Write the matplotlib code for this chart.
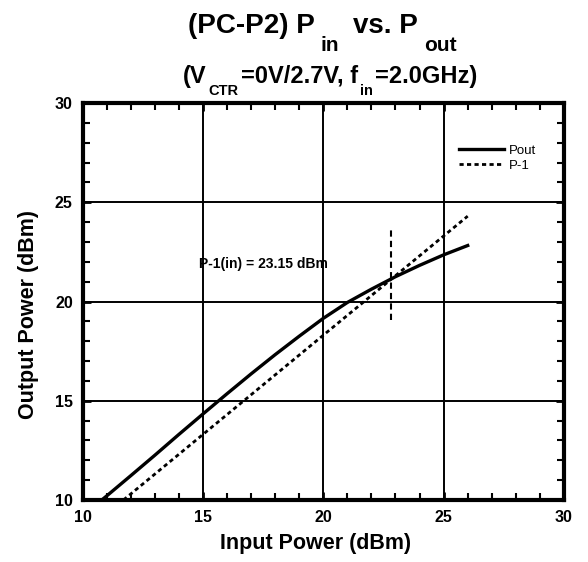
import numpy as np
import matplotlib
matplotlib.use("Agg")
import matplotlib.pyplot as plt
from matplotlib.ticker import MultipleLocator
from matplotlib.transforms import IdentityTransform

plt.rcParams['font.family'] = ['Liberation Sans', 'DejaVu Sans']

# measured output power (Pout) vs input power
pin = [10.8, 11, 12, 13, 14, 15, 16, 17, 18, 19, 20, 21, 22, 23, 24, 25, 26]
pout = [10.0, 10.2, 11.22, 12.25, 13.3, 14.33, 15.35, 16.35, 17.32, 18.25,
        19.15, 19.95, 20.62, 21.25, 21.82, 22.35, 22.82]

# linear reference line shifted by 1 dB (P-1)
p1_in = [11.7, 26.0]
p1_out = [10.0, 24.3]

# 1 dB compression marker
p1db_x = [22.83, 22.83]
p1db_y = [19.05, 23.6]
p1db_label = "P-1(in) = 23.15 dBm"

W, H = 588, 562
fig = plt.figure(figsize=(W / 100, H / 100), dpi=100)
ax = fig.add_axes([82.5 / W, (H - 500) / H, 481.5 / W, 397 / H])

ax.plot(pin, pout, color='black', lw=2.4, label='Pout')
ax.plot(p1_in, p1_out, color='black', lw=2, linestyle=(0, (1.5, 1.2)), label='P-1')
ax.plot(p1db_x, p1db_y, color='black', lw=1.5, linestyle=(0, (3, 2)))
ax.text(14.83, 21.9, p1db_label, fontsize=10, fontweight='bold', va='center')

ax.set_xlim(10, 30)
ax.set_ylim(10, 30)
ax.xaxis.set_major_locator(MultipleLocator(5))
ax.yaxis.set_major_locator(MultipleLocator(5))
ax.xaxis.set_minor_locator(MultipleLocator(1))
ax.yaxis.set_minor_locator(MultipleLocator(1))
ax.grid(True, which='major', color='black', lw=1.4)
ax.tick_params(which='both', direction='in', top=True, right=True, colors='black')
ax.tick_params(which='major', length=6, width=2, labelsize=11.5, pad=7)
ax.tick_params(which='minor', length=5, width=1.5)
for lab in ax.get_xticklabels() + ax.get_yticklabels():
    lab.set_fontweight('bold')
for s in ax.spines.values():
    s.set_linewidth(3)

ax.set_xlabel('Input Power (dBm)', fontsize=15.5, fontweight='bold')
ax.set_ylabel('Output Power (dBm)', fontsize=15.5, fontweight='bold')
ax.xaxis.set_label_coords(0.485, -0.082)
ax.yaxis.set_label_coords(-0.09, 0.466)

leg = ax.legend(loc='upper left', bbox_to_anchor=(0.782, 0.895), frameon=False,
                fontsize=9.5, handlelength=3.4, handletextpad=0.4,
                labelspacing=0.2, borderpad=0, borderaxespad=0)

# title lines with lowered subscripts, chained left to right in pixels
ident = IdentityTransform()
renderer = fig.canvas.get_renderer()


def chain(pieces, center_x, base_y):
    # pieces: (text, fontsize, drop below baseline px, gap before px)
    objs = []
    for txt, size, drop, gap in pieces:
        t = fig.text(0, 0, txt, transform=ident, fontsize=size,
                     fontweight='bold', ha='left', va='baseline')
        w = t.get_window_extent(renderer).width
        objs.append((t, w, drop, gap))
    total = sum(w + gap for _, w, _, gap in objs)
    x = center_x - total / 2
    for t, w, drop, gap in objs:
        x += gap
        t.set_position((x, H - base_y - drop))
        x += w


line1 = [("(PC-P2) P", 20, 0, 0), ("in", 15, 18, 6),
         ("vs. P", 20, 0, 14), ("out", 15, 18, 6)]
line2 = [("(V", 17, 0, 0), ("CTR", 10.5, 12, 2), ("=0V/2.7V, f", 17, 0, 2),
         ("in", 10.5, 12, 2), ("=2.0GHz)", 17, 0, 2)]
chain(line1, 322, 33)
chain(line2, 330, 83)

fig.savefig('out.png', dpi=100)
